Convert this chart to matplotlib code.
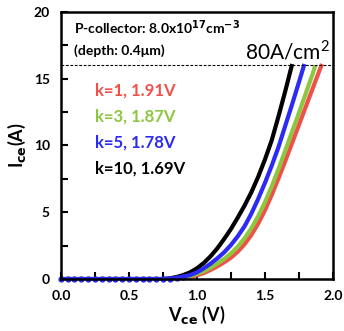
import matplotlib
matplotlib.use("Agg")
import matplotlib.pyplot as plt
import matplotlib.transforms as mtransforms

plt.rcParams['font.family'] = ['Lato', 'DejaVu Sans']

# leakage region, identical for all curves
v_off = [0.0, 0.05, 0.10, 0.15, 0.20, 0.25, 0.30, 0.35, 0.40, 0.45, 0.50,
         0.55, 0.60, 0.65, 0.70, 0.75]
i_off = [0.0] * len(v_off)

# k=10
v_k10 = [0.80, 0.85, 0.90, 0.95, 1.00, 1.05, 1.10, 1.15, 1.20, 1.25, 1.30,
         1.35, 1.40, 1.45, 1.50, 1.55, 1.60, 1.65, 1.70]
i_k10 = [0.05, 0.15, 0.3, 0.5, 0.8, 1.2, 1.7, 2.3, 3.0, 3.75, 4.6,
         5.5, 6.5, 7.65, 8.95, 10.4, 12.2, 14.1, 16.1]
# k=5
v_k5 = [0.80, 0.85, 0.90, 0.95, 1.00, 1.05, 1.10, 1.15, 1.20, 1.25, 1.30,
        1.35, 1.40, 1.45, 1.50, 1.55, 1.60, 1.65, 1.70, 1.75, 1.79]
i_k5 = [0.03, 0.08, 0.18, 0.3, 0.5, 0.8, 1.15, 1.55, 2.0, 2.55, 3.2,
        3.95, 4.9, 6.0, 7.2, 8.5, 9.9, 11.5, 13.1, 14.75, 16.1]
# k=3
v_k3 = [0.80, 0.85, 0.90, 0.95, 1.00, 1.05, 1.10, 1.15, 1.20, 1.25, 1.30,
        1.35, 1.40, 1.45, 1.50, 1.55, 1.60, 1.65, 1.70, 1.75, 1.80, 1.85, 1.87]
i_k3 = [0.01, 0.05, 0.12, 0.22, 0.38, 0.58, 0.85, 1.15, 1.5, 1.92, 2.42,
        3.05, 3.8, 4.7, 5.75, 6.95, 8.25, 9.65, 11.05, 12.45, 13.9, 15.35, 16.0]
# k=1
v_k1 = [0.80, 0.85, 0.90, 0.95, 1.00, 1.05, 1.10, 1.15, 1.20, 1.25, 1.30,
        1.35, 1.40, 1.45, 1.50, 1.55, 1.60, 1.65, 1.70, 1.75, 1.80, 1.85,
        1.90, 1.92]
i_k1 = [0.0, 0.03, 0.08, 0.16, 0.28, 0.45, 0.68, 0.95, 1.25, 1.6, 2.05,
        2.6, 3.3, 4.15, 5.15, 6.3, 7.55, 8.85, 10.2, 11.55, 12.9, 14.25,
        15.6, 16.1]

labels = ['k=1, 1.91V', 'k=3, 1.87V', 'k=5, 1.78V', 'k=10, 1.69V']
colors = ['#f0504a', '#8dc63f', '#2b2bf5', '#000000']
curves = [(v_k1, i_k1), (v_k3, i_k3), (v_k10, i_k10), (v_k5, i_k5)]
curve_colors = [colors[0], colors[1], colors[3], colors[2]]

fig = plt.figure(figsize=(3.44, 3.31), dpi=100)
ax = fig.add_axes([0.177, 0.157, 0.791, 0.807])

for (v, i), c in zip(curves, curve_colors):
    ax.plot(v_off + v, i_off + i, color=c, lw=3.0, solid_capstyle='butt',
            solid_joinstyle='round')
# blue measurement points along the zero-current region
ax.plot(v_off + v_k5[:3], i_off + i_k5[:3], color=colors[2], lw=0,
        marker='o', ms=3.5, clip_on=False)

ax.axhline(16, color='black', lw=0.8, ls=(0, (2.5, 1.5)))

ax.set_xlim(0, 2.0)
ax.set_ylim(0, 20)
ax.set_xticks([0.0, 0.5, 1.0, 1.5, 2.0])
ax.set_xticks([0.25, 0.75, 1.25, 1.75], minor=True)
ax.set_yticks([0, 5, 10, 15, 20])
ax.set_yticks([2.5, 7.5, 12.5, 17.5], minor=True)
ax.set_xticklabels(['0.0', '0.5', '1.0', '1.5', '2.0'], fontweight='bold', fontsize=10)
ax.set_yticklabels(['0', '5', '10', '15', '20'], fontweight='bold', fontsize=10)
ax.tick_params(which='both', direction='in', width=1.5)
ax.tick_params(which='major', length=5, pad=8)
ax.tick_params(which='minor', length=5)
for s in ax.spines.values():
    s.set_linewidth(1.8)

ax.set_xlabel('V$_{\\mathbf{ce}}$ (V)', fontsize=13, fontweight='bold', labelpad=1)
ax.set_ylabel('I$_{\\mathbf{ce}}$(A)', fontsize=13, fontweight='bold', labelpad=4)

ax.text(0.05, 0.94, 'P-collector: 8.0x10$^{\\mathbf{17}}$cm$^{\\mathbf{-3}}$',
        transform=ax.transAxes, fontsize=10, fontweight='bold', va='center')
ax.text(0.05, 0.855, '(depth: 0.4μm)', transform=ax.transAxes,
        fontsize=10, fontweight='bold', va='center')
trans = mtransforms.blended_transform_factory(ax.transAxes, ax.transData)
ax.text(0.99, 16.15, '80A/cm$^{\\mathregular{2}}$', transform=trans,
        ha='right', va='bottom', fontsize=15)

for k, (lab, c) in enumerate(zip(labels, colors)):
    ax.text(0.125, 0.705 - k * 0.097, lab, color=c, transform=ax.transAxes,
            fontsize=12, fontweight='bold', va='center')

fig.savefig('out.png', dpi=100)
